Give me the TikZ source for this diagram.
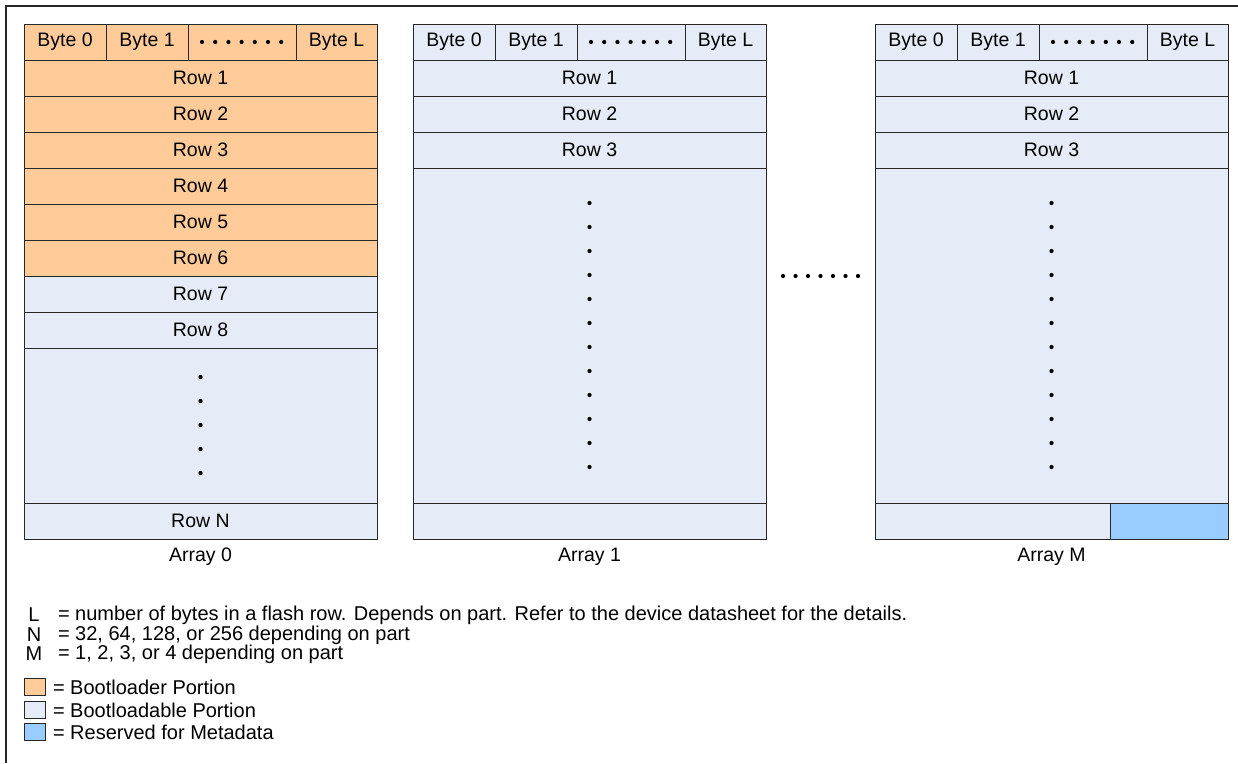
\documentclass[tikz,border=0pt]{standalone}
\usepackage{fontspec}
\setmainfont{Liberation Sans}
\definecolor{bootorange}{RGB}{255,204,153}
\definecolor{bootable}{RGB}{230,236,247}
\definecolor{metablue}{RGB}{153,204,255}
\definecolor{edgegray}{RGB}{40,40,40}
\newcommand{\cellbox}[7]{%
  \node[cell, fill=#6, minimum width={#4pt-#2pt}, minimum height={#5pt-#3pt}]
    (#1) at ({(#2+#4)/2},{(#3+#5)/2}) {#7};}
\begin{document}
\begin{tikzpicture}[x=1pt,y=-1pt,
  txt/.style={font=\fontsize{19.5}{20}\selectfont, inner sep=0pt, outer sep=0pt},
  legtxt/.style={font=\fontsize{20}{20}\selectfont, inner sep=0pt, outer sep=0pt},
  cell/.style={txt, draw=edgegray, line width=1pt},
  dotmark/.style={fill=black},
  frameline/.style={draw=black!85, line width=1.3pt},
  swatch/.style={draw=edgegray, line width=0.9pt, inner sep=0pt, minimum width=21pt, minimum height=17pt}]
\useasboundingbox (0,0) rectangle (1238,763);
\fill[white] (0,0) rectangle (1238,763);
% frame (top and left)
\draw[frameline] (6,763) -- (6,6) -- (1238,6);

% ---------------- Array 0 ----------------
\cellbox{aZbZ}{24}{24}{106}{60}{bootorange}{Byte 0}
\cellbox{aZbO}{106}{24}{188}{60}{bootorange}{Byte 1}
\cellbox{aZbD}{188}{24}{296}{60}{bootorange}{}
\cellbox{aZbL}{296}{24}{377}{60}{bootorange}{Byte L}
\cellbox{aZrA}{24}{60}{377}{96}{bootorange}{Row 1}
\cellbox{aZrB}{24}{96}{377}{132}{bootorange}{Row 2}
\cellbox{aZrC}{24}{132}{377}{168}{bootorange}{Row 3}
\cellbox{aZrD}{24}{168}{377}{204}{bootorange}{Row 4}
\cellbox{aZrE}{24}{204}{377}{240}{bootorange}{Row 5}
\cellbox{aZrF}{24}{240}{377}{276}{bootorange}{Row 6}
\cellbox{aZrG}{24}{276}{377}{312}{bootable}{Row 7}
\cellbox{aZrH}{24}{312}{377}{348}{bootable}{Row 8}
\cellbox{aZdots}{24}{348}{377}{503}{bootable}{}
\cellbox{aZrN}{24}{503}{377}{539}{bootable}{Row N}
\node[txt] (labZ) at (200.5,557) {Array 0};

% ---------------- Array 1 ----------------
\cellbox{aObZ}{413}{24}{495}{60}{bootable}{Byte 0}
\cellbox{aObO}{495}{24}{577}{60}{bootable}{Byte 1}
\cellbox{aObD}{577}{24}{685}{60}{bootable}{}
\cellbox{aObL}{685}{24}{766}{60}{bootable}{Byte L}
\cellbox{aOrA}{413}{60}{766}{96}{bootable}{Row 1}
\cellbox{aOrB}{413}{96}{766}{132}{bootable}{Row 2}
\cellbox{aOrC}{413}{132}{766}{168}{bootable}{Row 3}
\cellbox{aOdots}{413}{168}{766}{503}{bootable}{}
\cellbox{aOrN}{413}{503}{766}{539}{bootable}{}
\node[txt] (labO) at (589.5,557) {Array 1};

% ---------------- Array M ----------------
\cellbox{aMbZ}{875}{24}{957}{60}{bootable}{Byte 0}
\cellbox{aMbO}{957}{24}{1039}{60}{bootable}{Byte 1}
\cellbox{aMbD}{1039}{24}{1147}{60}{bootable}{}
\cellbox{aMbL}{1147}{24}{1228}{60}{bootable}{Byte L}
\cellbox{aMrA}{875}{60}{1228}{96}{bootable}{Row 1}
\cellbox{aMrB}{875}{96}{1228}{132}{bootable}{Row 2}
\cellbox{aMrC}{875}{132}{1228}{168}{bootable}{Row 3}
\cellbox{aMdots}{875}{168}{1228}{503}{bootable}{}
\cellbox{aMrN}{875}{503}{1110}{539}{bootable}{}
\cellbox{aMmeta}{1110}{503}{1228}{539}{metablue}{}
\node[txt] (labM) at (1051.5,557) {Array M};

% ---------------- dots ----------------
\foreach \x in {0,...,6} {
  \fill[dotmark] ({202+\x*13.2},42) circle (2.1);
  \fill[dotmark] ({591+\x*13.2},42) circle (2.1);
  \fill[dotmark] ({1053+\x*13.2},42) circle (2.1);
  \fill[dotmark] ({783+\x*12.5},276) circle (2.1);
}
\foreach \i in {0,...,4} {
  \fill[dotmark] (200.5,{377+\i*24}) circle (2.1);
}
\foreach \i in {0,...,11} {
  \fill[dotmark] (589.5,{203+\i*24}) circle (2.1);
  \fill[dotmark] (1051.5,{203+\i*24}) circle (2.1);
}

% ---------------- legend ----------------
\node[legtxt] (kL) at (34,615) {L};
\node[legtxt, anchor=west] (kLt) at (58,615) {= number of bytes in a flash row. Depends on part. Refer to the device datasheet for the details.};
\node[legtxt] (kN) at (34,635) {N};
\node[legtxt, anchor=west] (kNt) at (58,635) {= 32, 64, 128, or 256 depending on part};
\node[legtxt] (kM) at (34,654) {M};
\node[legtxt, anchor=west] (kMt) at (58,654) {= 1, 2, 3, or 4 depending on part};
\node[swatch, fill=bootorange] (kBL) at (34.5,687) {};
\node[legtxt, anchor=west] (kBLt) at (53,687) {= Bootloader Portion};
\node[swatch, fill=bootable] (kBA) at (34.5,710) {};
\node[legtxt, anchor=west] (kBAt) at (53,710) {= Bootloadable Portion};
\node[swatch, fill=metablue] (kRM) at (34.5,732) {};
\node[legtxt, anchor=west] (kRMt) at (53,732) {= Reserved for Metadata};
\end{tikzpicture}
\end{document}
